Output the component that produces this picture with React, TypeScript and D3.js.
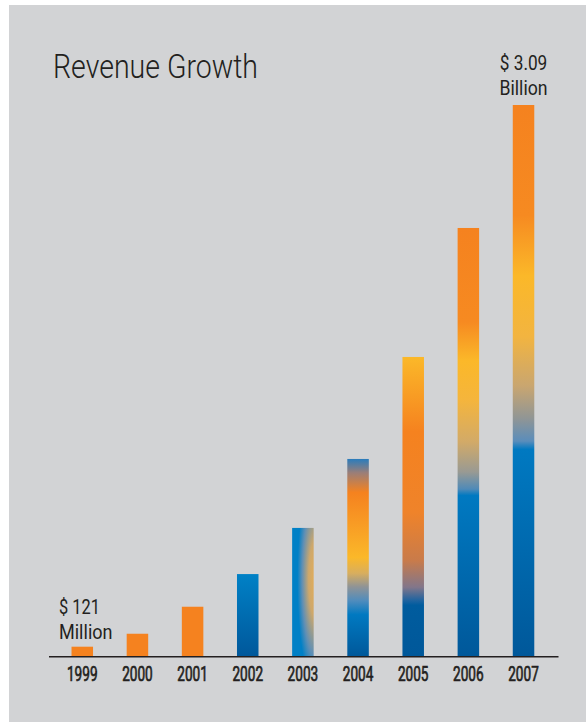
import React from "react";
import * as d3 from "d3";

const years = ["1999", "2000", "2001", "2002", "2003", "2004", "2005", "2006", "2007"];
// revenue in US$ millions
const revenue = [121, 192, 340, 519, 772, 1150, 1709, 2416, 3090];
const title = "Revenue Growth";
const firstLabel = ["$ 121", "Million"];
const lastLabel = ["$ 3.09", "Billion"];

type Stop = [number, string];
const ORANGE = "#f5821f";
const gradients: { type: "solid" | "linear" | "radial"; stops: Stop[] }[] = [
  { type: "solid", stops: [[0, ORANGE]] },
  { type: "solid", stops: [[0, ORANGE]] },
  { type: "solid", stops: [[0, ORANGE]] },
  { type: "linear", stops: [[0, "#0081c6"], [1, "#00589b"]] },
  { type: "radial", stops: [[0, "#e3ad58"], [0.3, "#cfa86a"], [0.62, "#5f8fb5"], [0.85, "#0080c6"], [1, "#0080c6"]] },
  {
    type: "linear",
    stops: [[0, "#2a7cbc"], [0.07, "#9a7e78"], [0.17, "#f5821f"], [0.32, "#f89a24"], [0.5, "#fbb829"], [0.58, "#d8ae5e"], [0.65, "#8e9397"], [0.72, "#4f8cbd"], [0.79, "#0079c1"], [1, "#00589a"]],
  },
  {
    type: "linear",
    stops: [[0, "#fbb829"], [0.25, "#f5821f"], [0.52, "#ef832a"], [0.68, "#c97b4a"], [0.77, "#82768a"], [0.815, "#1d63a0"], [0.83, "#005c9e"], [1, "#00589a"]],
  },
  {
    type: "linear",
    stops: [[0, "#f5821f"], [0.22, "#f68a21"], [0.31, "#fbb829"], [0.4, "#f5b53c"], [0.5, "#d2aa68"], [0.57, "#999a93"], [0.61, "#4f8ab8"], [0.625, "#0079c1"], [1, "#00589a"]],
  },
  {
    type: "linear",
    stops: [[0, ORANGE], [0.2, "#f68a21"], [0.31, "#fbb829"], [0.42, "#f2b440"], [0.51, "#c9a670"], [0.57, "#8f9596"], [0.61, "#5a8dbb"], [0.625, "#0079c1"], [1, "#00589a"]],
  },
];

const W = 586;
const H = 722;
const FONT = "Roboto, 'Open Sans', sans-serif";
const TEXT = "#231f20";

export default function App() {
  const x = d3.scaleBand<string>().domain(years).range([54.7, 551.1]).paddingInner(0.61).paddingOuter(0.305);
  const y = d3.scaleLinear().domain([70, 3090]).range([656, 105]);
  const baseY = y(70);
  const last = years.length - 1;
  const cxLast = (x(years[last]) as number) + x.bandwidth() / 2;

  return (
    <svg width={W} height={H} style={{ position: "absolute", left: 0, top: 0 }} fontFamily={FONT}>
      <defs>
        {gradients.map((g, i) =>
          g.type === "linear" ? (
            <linearGradient key={i} id={`g${i}`} x1="0" y1="0" x2="0" y2="1">
              {g.stops.map((s, j) => (
                <stop key={j} offset={s[0]} stopColor={s[1]} />
              ))}
            </linearGradient>
          ) : g.type === "radial" ? (
            <radialGradient key={i} id={`g${i}`} cx="1.05" cy="0.4" r="0.95" fx="1.05" fy="0.4">
              {g.stops.map((s, j) => (
                <stop key={j} offset={s[0]} stopColor={s[1]} />
              ))}
            </radialGradient>
          ) : null
        )}
      </defs>
      <rect x={9} y={5} width={W - 9} height={H - 5} fill="#d2d3d5" />
      <text x={53} y={78} fontSize={34} fontWeight={300} fill={TEXT} textLength={205} lengthAdjust="spacingAndGlyphs">
        {title}
      </text>
      {years.map((yr, i) => (
        <rect
          key={yr}
          x={x(yr)}
          y={y(revenue[i])}
          width={x.bandwidth()}
          height={baseY - y(revenue[i])}
          fill={gradients[i].type === "solid" ? gradients[i].stops[0][1] : `url(#g${i})`}
        />
      ))}
      <line x1={49} x2={558.5} y1={656.7} y2={656.7} stroke={TEXT} strokeWidth={1.5} />
      {years.map((yr) => (
        <text
          key={yr}
          x={(x(yr) as number) + x.bandwidth() / 2}
          y={681}
          fontSize={20.5}
          fontWeight={400}
          textAnchor="middle"
          fill={TEXT}
          stroke={TEXT}
          strokeWidth={0.7}
          textLength={30.6}
          lengthAdjust="spacingAndGlyphs"
        >
          {yr}
        </text>
      ))}
      <g fontWeight={400} fill={TEXT} fontSize={20.5}>
        <text x={59} y={614} textLength={41} lengthAdjust="spacingAndGlyphs">
          {firstLabel[0]}
        </text>
        <text x={59} y={639} textLength={53.5} lengthAdjust="spacingAndGlyphs">
          {firstLabel[1]}
        </text>
        <text x={cxLast} y={70} textAnchor="middle" textLength={47.5} lengthAdjust="spacingAndGlyphs">
          {lastLabel[0]}
        </text>
        <text x={cxLast} y={95} textAnchor="middle" textLength={48} lengthAdjust="spacingAndGlyphs">
          {lastLabel[1]}
        </text>
      </g>
    </svg>
  );
}
